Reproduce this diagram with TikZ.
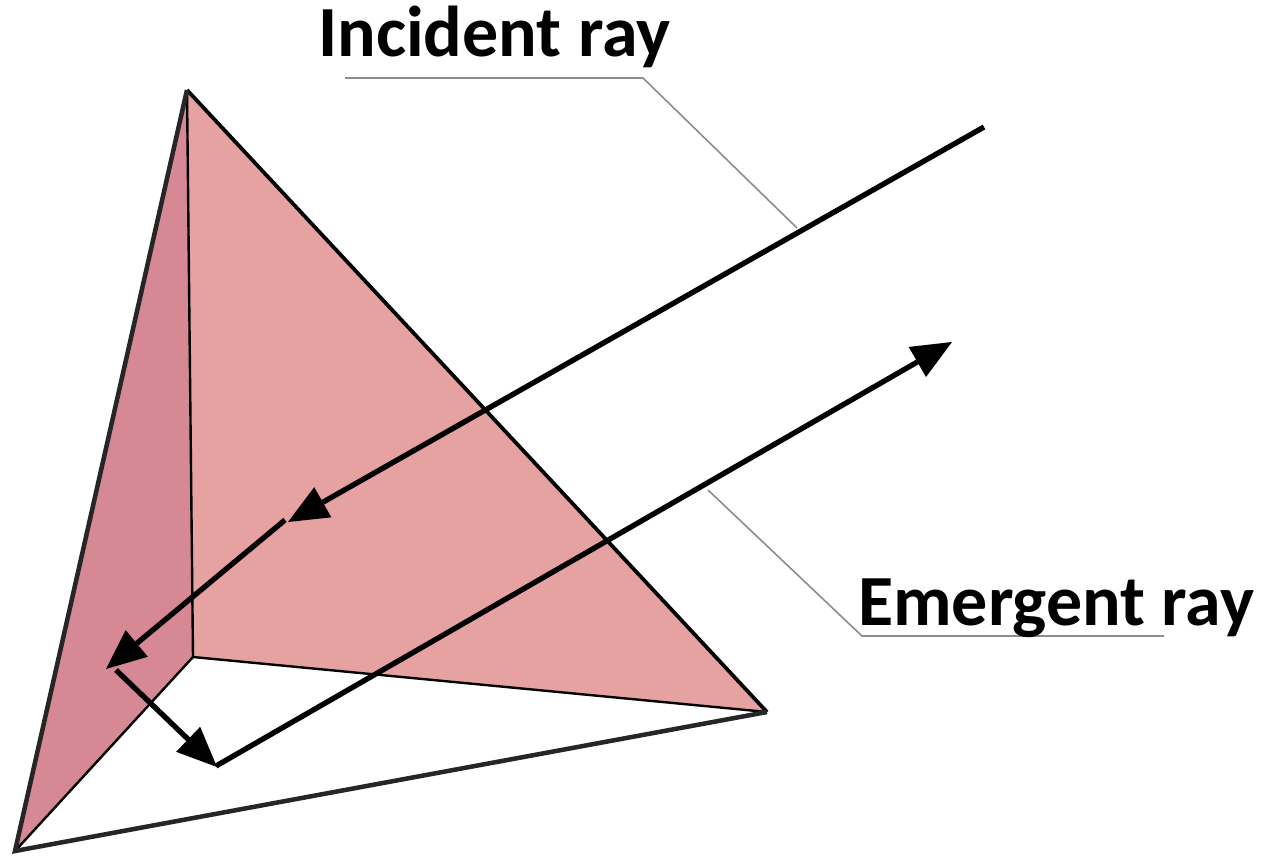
\documentclass[tikz,border=0pt]{standalone}
\usepackage{fontspec}
\setmainfont{Carlito}
\usetikzlibrary{arrows.meta}
\definecolor{facel}{HTML}{D68894}
\definecolor{facer}{HTML}{E6A1A1}
\tikzset{
  x=0.75pt,y=-0.75pt,
  ray/.style={draw=black,line width=4pt},
  rayarrow/.style={ray,-{Triangle[length=30pt,width=26pt,line width=0pt]}},
  edge/.style={draw=black,line width=1.8pt},
  outer/.style={draw=black!85,line width=3.4pt},
  leader/.style={draw=black!45,line width=1.2pt},
  lab/.style={font=\fontsize{54}{60}\selectfont\bfseries,inner sep=0pt,anchor=base west}
}
\begin{document}
\begin{tikzpicture}
\useasboundingbox (0,0) rectangle (1266,866);
\coordinate (A) at (187,90);
\coordinate (B) at (15,851);
\coordinate (C) at (767,712);
\coordinate (D) at (193,657);
\fill[facel] (A)--(B)--(D)--cycle;
\fill[facer] (A)--(D)--(C)--cycle;
\draw[edge] (A)--(D)--(C);
\draw[edge] (D)--(B);
\draw[edge,line width=2.8pt] (A)--(C);
\draw[outer] (A)--(B)--(C);
\coordinate (inS) at (984,127);
\coordinate (inT) at (288,522);
\coordinate (r1S) at (285,520);
\coordinate (r1T) at (106,669);
\coordinate (r2S) at (116,670);
\coordinate (r2T) at (217,767);
\coordinate (r3S) at (216,766);
\coordinate (r3T) at (952,342);
\draw[rayarrow] (inS)--(inT);
\draw[rayarrow] (r1S)--(r1T);
\draw[rayarrow] (r2S)--(r2T);
\draw[rayarrow] (r3S)--(r3T);
\coordinate (l1a) at (345,78);
\coordinate (l1b) at (643,78);
\coordinate (l1c) at (797,228);
\coordinate (l2a) at (708,490);
\coordinate (l2b) at (862,636);
\coordinate (l2c) at (1164,636);
\draw[leader] (l1a)--(l1b)--(l1c);
\draw[leader] (l2a)--(l2b)--(l2c);
\node[lab] (t1) at (318,57) {Incident ray};
\node[lab] (t2) at (858,625) {Emergent ray};
\end{tikzpicture}
\end{document}
